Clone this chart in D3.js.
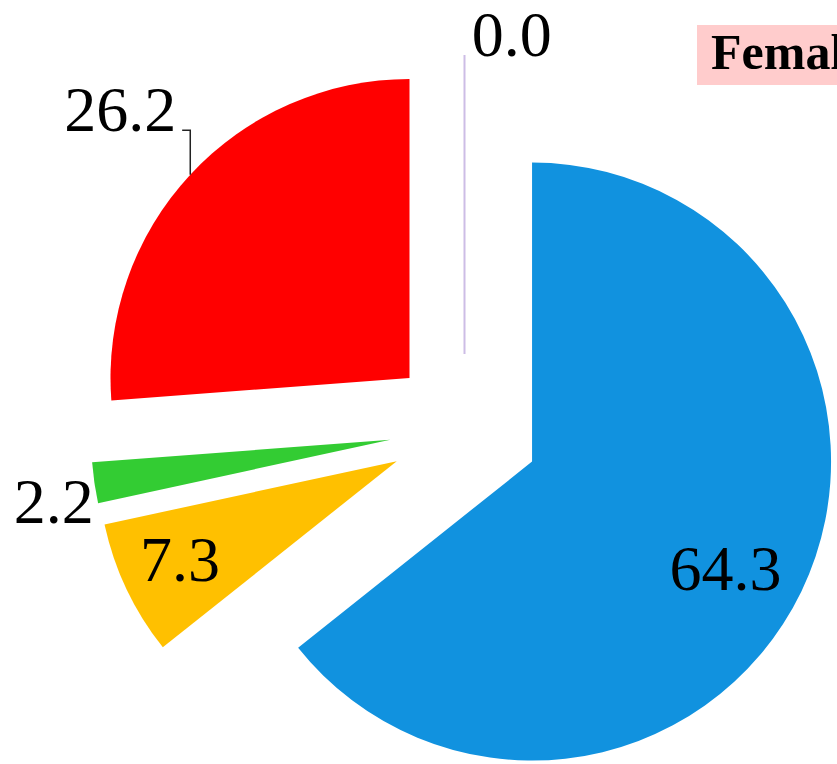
<!DOCTYPE html>
<html>
<head>
<meta charset="utf-8">
<script src="https://cdn.jsdelivr.net/npm/d3@7"></script>
<style>
html,body{margin:0;padding:0;background:#fff;overflow:hidden;}
svg{display:block;}
</style>
</head>
<body>
<svg id="chart" width="837" height="764"></svg>
<script>
// ---- data ----
const categories = ["Category 1", "Category 2", "Category 3", "Category 4", "Category 5"];
const values = [64.3, 7.3, 2.2, 26.2, 0.0];
const colors = ["#1192df", "#ffc000", "#33cc33", "#ff0000", "#cdbde6"];
const title = "Female";

// ---- layout ----
const W = 837, H = 764;
const cx = 464.5, cy = 429, R = 299, explode = 75;
const fontSize = 64;

const svg = d3.select("#chart");
const g = svg.append("g").attr("transform", `translate(${cx},${cy})`);

const pie = d3.pie().sort(null).value(d => d).startAngle(0).endAngle(2 * Math.PI);
const arcs = pie(values);
const arcGen = d3.arc().innerRadius(0).outerRadius(R);

const polar = (ang, rad) => [rad * Math.sin(ang), -rad * Math.cos(ang)];
const mid = d => (d.startAngle + d.endAngle) / 2;
const apex = d => polar(mid(d), explode);

// slices
g.selectAll("path.slice")
  .data(arcs)
  .join("path")
  .attr("class", "slice")
  .attr("d", arcGen)
  .attr("transform", d => { const [x, y] = apex(d); return `translate(${x},${y})`; })
  .attr("fill", (d, i) => colors[i])
  .attr("stroke", (d, i) => d.data === 0 ? colors[i] : "none")
  .attr("stroke-width", 2);

// label placement (radius from slice apex, angle tweak in degrees)
const labelPlace = [
  { rad: 221, dAng: 3.2, leader: false },
  { rad: 238, dAng: 1.0, leader: false },
  { rad: 342, dAng: -2.0, leader: false },
  { rad: 394.6, dAng: 0, leader: true },
  { rad: 323, dAng: 8.4, leader: false }
];

const fmt = d3.format(".1f");
arcs.forEach((d, i) => {
  const p = labelPlace[i];
  const [ax, ay] = apex(d);
  const [lx, ly] = polar(mid(d) + p.dAng * Math.PI / 180, p.rad);
  const x = ax + lx, y = ay + ly;
  const t = g.append("text")
    .attr("x", x)
    .attr("y", y + 0.34 * fontSize)
    .attr("text-anchor", "middle")
    .attr("font-family", "'Liberation Serif', 'Times New Roman', serif")
    .attr("font-size", fontSize)
    .attr("fill", "#000")
    .text(fmt(values[i]));
  if (p.leader) {
    const tw = t.node().getComputedTextLength();
    const [ex, ey] = polar(mid(d), R);
    const px = ax + ex, py = ay + ey;
    const lxEnd = x + tw / 2 + 6;
    const lyEnd = y + 0.32 * fontSize;
    g.append("path")
      .attr("d", `M${px},${py}L${px},${lyEnd}L${lxEnd},${lyEnd}`)
      .attr("fill", "none")
      .attr("stroke", "#222")
      .attr("stroke-width", 1.5);
  }
});

// title box
const tg = svg.append("g");
const tt = tg.append("text")
  .attr("x", 711)
  .attr("y", 69)
  .attr("font-family", "'Liberation Serif', 'Times New Roman', serif")
  .attr("font-weight", "bold")
  .attr("font-size", 50)
  .attr("fill", "#000")
  .text(title);
const tw = tt.node().getComputedTextLength();
tg.insert("rect", "text")
  .attr("x", 697)
  .attr("y", 25)
  .attr("width", tw + 30)
  .attr("height", 60)
  .attr("fill", "#ffcccc");
</script>
</body>
</html>
